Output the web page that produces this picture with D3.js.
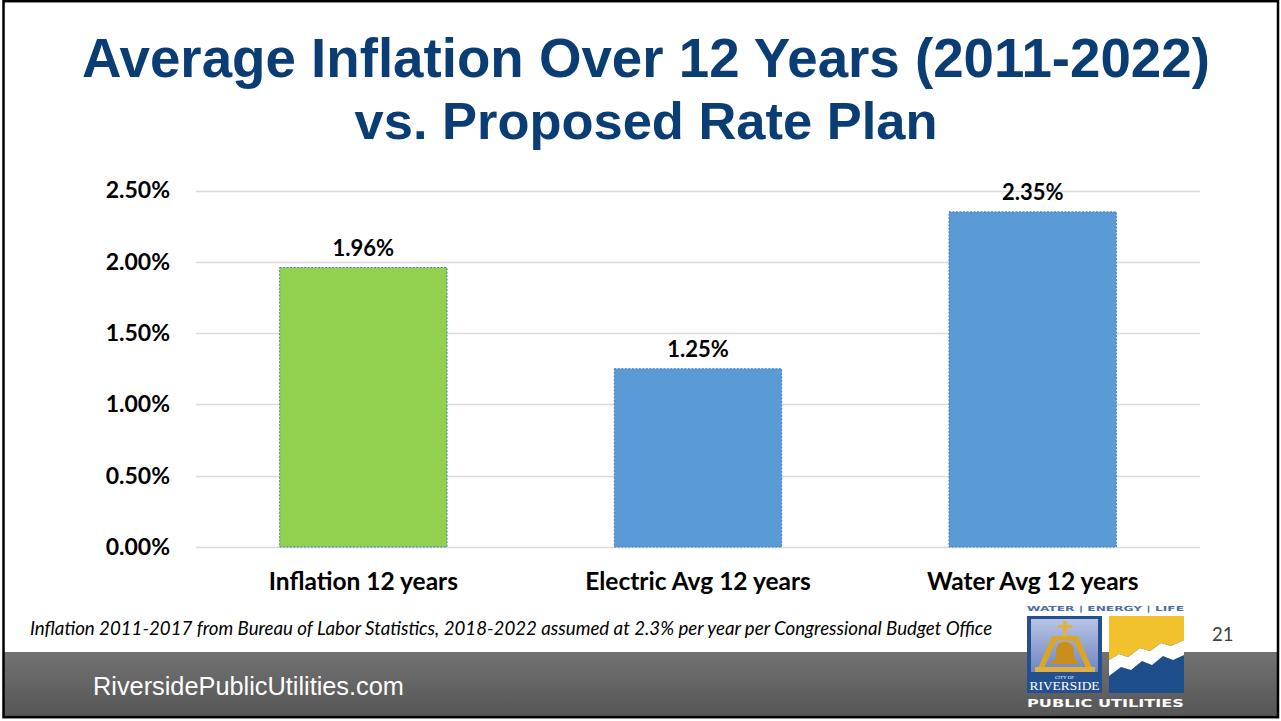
<!DOCTYPE html>
<html>
<head>
<meta charset="utf-8">
<script src="https://cdn.jsdelivr.net/npm/d3@7"></script>
<style>
  html, body { margin: 0; padding: 0; background: #fff; }
  svg { display: block; }
</style>
</head>
<body>
<svg id="slide" width="1281" height="721"></svg>
<script>
// Chart data
const categories = ["Inflation 12 years", "Electric Avg 12 years", "Water Avg 12 years"];
const values = [1.96, 1.25, 2.35];
const barColors = ["#92D050", "#5B9BD5", "#5B9BD5"];
const yTicks = [0, 0.5, 1.0, 1.5, 2.0, 2.5];

const titleLines = ["Average Inflation Over 12 Years (2011-2022)", "vs. Proposed Rate Plan"];
const footnote = "Inflation 2011-2017 from Bureau of Labor Statistics, 2018-2022 assumed at 2.3% per year per Congressional Budget Office";
const website = "RiversidePublicUtilities.com";
const pageNumber = "21";

const svg = d3.select("#slide");

// Scale a text element's font size so it spans a given width
function fitWidth(sel, target) {
  const node = sel.node();
  const fs = parseFloat(sel.attr("font-size"));
  const w = node.getComputedTextLength();
  if (w > 0) sel.attr("font-size", (fs * target / w).toFixed(2));
}

// Footer band
const defs = svg.append("defs");
const grad = defs.append("linearGradient").attr("id", "band").attr("x1", 0).attr("y1", 0).attr("x2", 0).attr("y2", 1);
grad.append("stop").attr("offset", "0%").attr("stop-color", "#727272");
grad.append("stop").attr("offset", "100%").attr("stop-color", "#555555");
svg.append("rect").attr("x", 3).attr("y", 652).attr("width", 1275).attr("height", 66).attr("fill", "url(#band)");

// Title
titleLines.forEach((t, i) => {
  const el = svg.append("text")
    .attr("x", 646).attr("y", 77 + i * 62)
    .attr("text-anchor", "middle")
    .attr("font-family", "'Liberation Sans', Arial, sans-serif")
    .attr("font-weight", "bold")
    .attr("font-size", 56)
    .attr("fill", "#0B3D75")
    .text(t);
  fitWidth(el, i === 0 ? 1128 : 583);
});

// Plot area
const x = d3.scaleBand().domain(categories).range([196, 1200]).paddingInner(0.5).paddingOuter(0.25);
const y = d3.scaleLinear().domain([0, 2.5]).range([547, 190.5]);

const g = svg.append("g");

// Gridlines
g.selectAll("line.grid").data(yTicks).join("line")
  .attr("class", "grid")
  .attr("x1", 196).attr("x2", 1200)
  .attr("y1", d => Math.round(y(d)) + 0.5).attr("y2", d => Math.round(y(d)) + 0.5)
  .attr("stroke", "#D9D9D9").attr("stroke-width", 1.3);

// Y axis labels
const yAxis = g.append("g").attr("transform", "translate(196,0)")
  .call(d3.axisLeft(y).tickValues(yTicks).tickSize(0).tickPadding(26).tickFormat(d => d.toFixed(2) + "%"));
yAxis.select(".domain").remove();
yAxis.selectAll("text")
  .attr("font-family", "Lato, 'Open Sans', sans-serif")
  .attr("font-weight", "bold")
  .attr("font-size", 23)
  .attr("fill", "#000");

// Bars
const data = categories.map((c, i) => ({ c, v: values[i], color: barColors[i] }));
g.selectAll("rect.bar").data(data).join("rect")
  .attr("class", "bar")
  .attr("x", d => x(d.c)).attr("width", x.bandwidth())
  .attr("y", d => y(d.v)).attr("height", d => y(0) - y(d.v))
  .attr("fill", d => d.color)
  .attr("stroke", "#3E7CC0").attr("stroke-width", 1)
  .attr("stroke-dasharray", "2,1.5");

// Value labels
g.selectAll("text.val").data(data).join("text")
  .attr("class", "val")
  .attr("x", d => x(d.c) + x.bandwidth() / 2)
  .attr("y", d => y(d.v) - 12)
  .attr("text-anchor", "middle")
  .attr("font-family", "Lato, 'Open Sans', sans-serif")
  .attr("font-weight", "bold")
  .attr("font-size", 22)
  .attr("fill", "#000")
  .text(d => d.v.toFixed(2) + "%");

// Category axis
const xAxis = g.append("g").attr("transform", "translate(0,547)")
  .call(d3.axisBottom(x).tickSize(0));
xAxis.select(".domain").remove();
xAxis.selectAll("text")
  .attr("y", 43).attr("dy", 0)
  .attr("font-family", "Lato, 'Open Sans', sans-serif")
  .attr("font-weight", "bold")
  .attr("font-size", 24.5)
  .attr("fill", "#000");

// Source note
const note = svg.append("text")
  .attr("x", 30).attr("y", 635)
  .attr("font-family", "Lato, 'Open Sans', sans-serif")
  .attr("font-style", "italic")
  .attr("font-size", 18)
  .attr("fill", "#000")
  .text(footnote);
fitWidth(note, 963);

// Website
const site = svg.append("text")
  .attr("x", 93).attr("y", 695)
  .attr("font-family", "'Liberation Sans', Arial, sans-serif")
  .attr("font-size", 23)
  .attr("fill", "#fff")
  .text(website);
fitWidth(site, 311);

// Page number
svg.append("text")
  .attr("x", 1212).attr("y", 641)
  .attr("font-family", "Lato, 'Open Sans', sans-serif")
  .attr("font-size", 18.5)
  .attr("fill", "#404040")
  .text(pageNumber);

// Utility logo
const logo = svg.append("g");
logo.append("text")
  .attr("x", 1027).attr("y", 611)
  .attr("font-family", "'DejaVu Sans', sans-serif").attr("font-weight", "bold")
  .attr("font-size", 7).attr("fill", "#4E6FA6")
  .attr("textLength", 157).attr("lengthAdjust", "spacingAndGlyphs")
  .text("WATER | ENERGY | LIFE");

// City seal square
const lg = defs.append("linearGradient").attr("id", "seal").attr("x1", 0).attr("y1", 0).attr("x2", 0).attr("y2", 1);
lg.append("stop").attr("offset", "0%").attr("stop-color", "#b8c3e6");
lg.append("stop").attr("offset", "100%").attr("stop-color", "#6f86c0");
logo.append("rect").attr("x", 1027).attr("y", 616).attr("width", 75).attr("height", 77).attr("fill", "#24508F");
logo.append("rect").attr("x", 1031).attr("y", 619).attr("width", 67).attr("height", 53).attr("fill", "url(#seal)");
// bell frame
logo.append("path")
  .attr("d", "M1052,636 L1078,636 L1092,668 L1086,668 L1074,641 L1056,641 L1044,668 L1038,668 Z")
  .attr("fill", "#D9A628");
logo.append("rect").attr("x", 1035).attr("y", 667).attr("width", 60).attr("height", 5).attr("fill", "#E0B040");
// cross
logo.append("rect").attr("x", 1063).attr("y", 621).attr("width", 4).attr("height", 16).attr("fill", "#E2B23A");
logo.append("rect").attr("x", 1058).attr("y", 625).attr("width", 14).attr("height", 3).attr("fill", "#E2B23A");
// bell
logo.append("path")
  .attr("d", "M1065,642 C1057,642 1056,648 1056,654 C1056,659 1053,661 1050,664 L1080,664 C1077,661 1074,659 1074,654 C1074,648 1073,642 1065,642 Z")
  .attr("fill", "#C98E1C");
logo.append("text").attr("x", 1064.5).attr("y", 679).attr("text-anchor", "middle")
  .attr("font-family", "'Liberation Serif', serif").attr("font-size", 5).attr("fill", "#fff").text("CITY OF");
logo.append("text").attr("x", 1064.5).attr("y", 690).attr("text-anchor", "middle")
  .attr("font-family", "'Liberation Serif', serif").attr("font-size", 12).attr("fill", "#fff")
  .attr("textLength", 70).attr("lengthAdjust", "spacingAndGlyphs").text("RIVERSIDE");

// Utilities square
logo.append("rect").attr("x", 1109).attr("y", 616).attr("width", 75).attr("height", 77).attr("fill", "#1E4D8C");
logo.append("path")
  .attr("d", "M1109,676 L1109,660 L1119,654 L1128,657 L1140,648 L1150,651 L1161,643 L1171,646 L1184,640 L1184,655 L1173,660 L1163,656 L1152,665 L1142,661 L1131,670 L1121,667 Z")
  .attr("fill", "#fff");
logo.append("path")
  .attr("d", "M1109,616 L1184,616 L1184,640 L1171,646 L1161,643 L1150,651 L1140,648 L1128,657 L1119,654 L1109,660 Z")
  .attr("fill", "#F2C12E");
logo.append("text")
  .attr("x", 1027).attr("y", 707)
  .attr("font-family", "'DejaVu Sans', sans-serif").attr("font-weight", "bold")
  .attr("font-size", 10).attr("fill", "#fff")
  .attr("textLength", 157).attr("lengthAdjust", "spacingAndGlyphs")
  .text("PUBLIC UTILITIES");

// Slide frame
svg.append("rect").attr("x", 3.5).attr("y", 1.2).attr("width", 1274.5).attr("height", 716)
  .attr("fill", "none").attr("stroke", "#000").attr("stroke-width", 2.5);
</script>
</body>
</html>
